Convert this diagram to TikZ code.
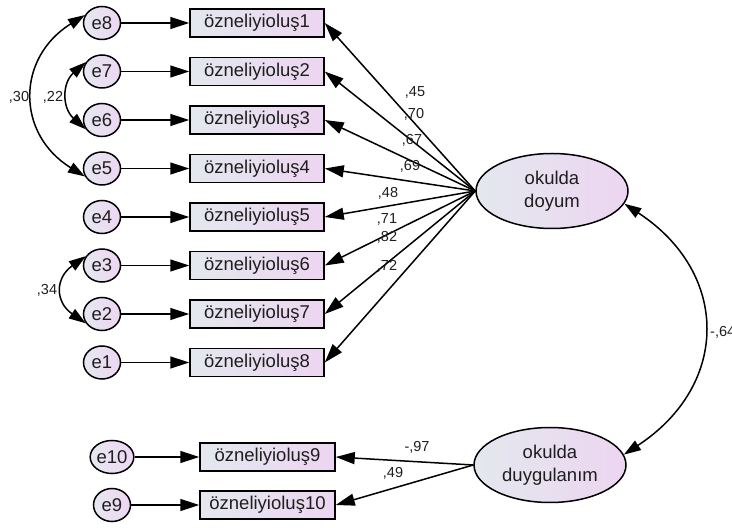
\documentclass[tikz,border=0pt]{standalone}
\usepackage{fontspec}
\setmainfont{Liberation Sans}
\usetikzlibrary{shapes.geometric,arrows.meta}
\definecolor{txt}{HTML}{1E1E1E}
\definecolor{bL}{HTML}{E3E8EE}
\definecolor{bR}{HTML}{EDD5F1}
\definecolor{cL}{HTML}{E6E8F0}
\definecolor{cR}{HTML}{EDD6F2}
\newcommand\nodefnt{\fontsize{18.5}{23}\selectfont}
\newcommand\labfnt{\fontsize{14.5}{17}\selectfont}
\tikzset{
  err/.style={ellipse, draw, line width=1.5pt, minimum width=37pt, minimum height=33pt,
    inner sep=0pt, left color=cL, right color=cR, font=\nodefnt, text=txt},
  obs/.style={rectangle, draw, line width=1.5pt, minimum width=134pt, minimum height=28pt,
    inner sep=0pt, left color=bL, right color=bR, font=\nodefnt, text=txt},
  lat/.style={ellipse, draw, line width=1.5pt, minimum width=152pt, minimum height=75pt,
    inner sep=0pt, left color=bL, right color=bR, font=\nodefnt, text=txt, align=center},
  pth/.style={line width=1.5pt, -{Triangle[length=19pt,width=12pt]}},
  cov/.style={line width=1.5pt, {Triangle[length=17pt,width=11pt]}-{Triangle[length=17pt,width=11pt]}},
  lab/.style={font=\labfnt, text=txt, inner sep=0pt}
}
\begin{document}
\begin{tikzpicture}[x=1pt,y=1pt]
\useasboundingbox (0,0) rectangle (732,528);
% error terms
\node[err] (e8) at (102,505) {e8};
\node[err] (e7) at (102,456.5) {e7};
\node[err] (e6) at (102,408) {e6};
\node[err] (e5) at (102,359.5) {e5};
\node[err] (e4) at (102,311) {e4};
\node[err] (e3) at (102,262.5) {e3};
\node[err] (e2) at (102,214) {e2};
\node[err] (e1) at (102,165.5) {e1};
\node[err] (e10) at (112,71) {e10};
\node[err] (e9) at (112,23) {e9};
% observed
\node[obs] (b1) at (257,505) {özneliyioluş1};
\node[obs] (b2) at (257,456.5) {özneliyioluş2};
\node[obs] (b3) at (257,408) {özneliyioluş3};
\node[obs] (b4) at (257,359.5) {özneliyioluş4};
\node[obs] (b5) at (257,311) {özneliyioluş5};
\node[obs] (b6) at (257,262.5) {özneliyioluş6};
\node[obs] (b7) at (257,214) {özneliyioluş7};
\node[obs] (b8) at (257,165.5) {özneliyioluş8};
\node[obs, minimum width=135pt] (b9) at (267.5,71) {özneliyioluş9};
\node[obs, minimum width=135pt] (b10) at (267.5,23) {özneliyioluş10};
% latent
\node[lat] (doy) at (552,337) {okulda\\doyum};
\node[lat] (duy) at (550,63) {okulda\\duygulanım};
% error paths
\foreach \e/\b in {e8/b1,e7/b2,e6/b3,e5/b4,e4/b5,e3/b6,e2/b7,e1/b8,e10/b9,e9/b10}
  \draw[pth] (\e) -- (\b);
% loadings
\foreach \b in {b1,b2,b3,b4,b5,b6,b7,b8}
  \draw[pth] (doy.west) -- (\b.east);
\draw[pth] (duy.west) -- (b9.east);
\draw[pth] (duy.west) -- (b10.east);
% loading labels
\node[lab] (l1) at (415,436) {,45};
\node[lab] (l2) at (414,414) {,70};
\node[lab] (l3) at (412,388) {,67};
\node[lab] (l4) at (410,362) {,69};
\node[lab] (l5) at (388,335) {,48};
\node[lab] (l6) at (387,309) {,71};
\node[lab] (l7) at (387,291) {,82};
\node[lab] (l8) at (387,262) {,72};
\node[lab] (l9) at (417,81) {-,97};
\node[lab] (l10) at (393,55) {,49};
% covariances
\draw[cov] (e8.155) .. controls (16,470) and (16,394) .. (e5.205);
\draw[cov] (e7.150) .. controls (62,445) and (62,420) .. (e6.210);
\draw[cov] (e3.150) .. controls (55,250) and (55,226) .. (e2.210);
\draw[cov] (doy.-10) .. controls (730,255) and (730,143) .. (duy.8);
\node[lab] (c1) at (19,431) {,30};
\node[lab] (c2) at (53,431) {,22};
\node[lab] (c3) at (47,238) {,34};
\node[lab, anchor=west] (c4) at (710,196) {-,64};
\end{tikzpicture}
\end{document}
